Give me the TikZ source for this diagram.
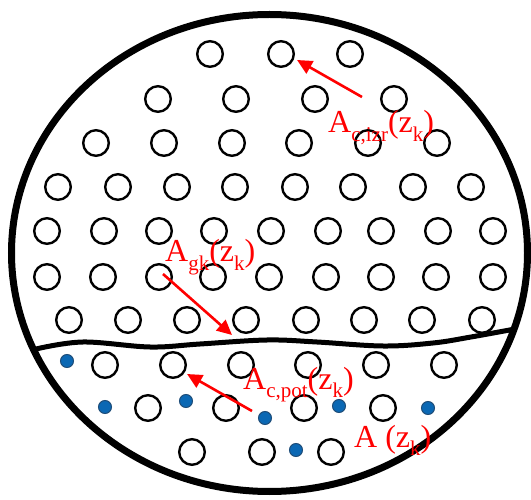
\documentclass[tikz,border=0pt]{standalone}
\usepackage{fontspec}
\setmainfont{Liberation Serif}
\usetikzlibrary{arrows.meta}
\newcommand{\lsub}[1]{\raisebox{-0.28em}{\fontsize{21}{22}\selectfont #1}}
\definecolor{dotblue}{HTML}{0B68B4}
\definecolor{dotedge}{HTML}{1F4E79}
\tikzset{
  hole/.style={circle, draw=black, line width=2.4pt, minimum size=25.6pt, inner sep=0pt},
  bdot/.style={circle, fill=dotblue, draw=dotedge, line width=1pt, minimum size=13pt, inner sep=0pt},
  lbl/.style={text=red, font=\fontsize{32}{34}\selectfont, inner sep=0pt, anchor=base west},
  arr/.style={draw=red, line width=2.6pt, -{Triangle[length=15pt,width=14pt]}},
}
\begin{document}
\begin{tikzpicture}[x=1pt,y=-1pt]
\useasboundingbox (0,0) rectangle (531,500);
\draw[line width=7pt] (269.5,253) ellipse [x radius=258pt, y radius=238.5pt];
% holes
\foreach \x [count=\i] in {210,281,350} \node[hole] (ra\i) at (\x,54) {};
\foreach \x [count=\i] in {158,236,315,394} \node[hole] (rb\i) at (\x,99) {};
\foreach \x [count=\i] in {96,164,232,299,368,437} \node[hole] (rc\i) at (\x,143) {};
\foreach \x [count=\i] in {58,118,177,235,295,353,413,471} \node[hole] (rd\i) at (\x,187) {};
\foreach \x [count=\i] in {47,104,159,214,271,328,381,438,493} \node[hole] (re\i) at (\x,231) {};
\foreach \x [count=\i] in {47,103,159,213,269,326,381,436,493} \node[hole] (rf\i) at (\x,277) {};
\foreach \x [count=\i] in {69,128,187,246,306,364,422,482} \node[hole] (rg\i) at (\x,320) {};
\foreach \x [count=\i] in {105,173,241,308,376,444} \node[hole] (rh\i) at (\x,365) {};
\foreach \x [count=\i] in {148,226,304,383} \node[hole] (ri\i) at (\x,408) {};
\foreach \x [count=\i] in {192,262,331} \node[hole] (rj\i) at (\x,452) {};
% blue dots
\node[bdot] (d1) at (67,361) {};
\node[bdot] (d2) at (105,407) {};
\node[bdot] (d3) at (186,401) {};
\node[bdot] (d4) at (265,418) {};
\node[bdot] (d5) at (339,406) {};
\node[bdot] (d6) at (428,408) {};
\node[bdot] (d7) at (296,450) {};
% interface line
\draw[line width=5pt] plot[smooth, tension=0.6] coordinates {(36,349) (83,342) (150,347) (200,344) (267,340) (317,342) (383,346) (433,343) (471,337) (515,329)};
% labels
\node[lbl] (l1) at (328,133) {A\lsub{c,izr}(z\lsub{k})};
\node[lbl] (l2) at (165,262) {A\lsub{gk}(z\lsub{k})};
\node[lbl] (l3) at (243,389) {A\lsub{c,pot}(z\lsub{k})};
\node[lbl] (l4) at (354,447) {A (z\lsub{k})};
% arrows
\coordinate (a1s) at (362,97); \coordinate (a1e) at (297,60);
\coordinate (a2s) at (163,274); \coordinate (a2e) at (232,335);
\coordinate (a3s) at (252,411); \coordinate (a3e) at (187,374);
\draw[arr] (a1s) -- (a1e);
\draw[arr] (a2s) -- (a2e);
\draw[arr] (a3s) -- (a3e);
\end{tikzpicture}
\end{document}
